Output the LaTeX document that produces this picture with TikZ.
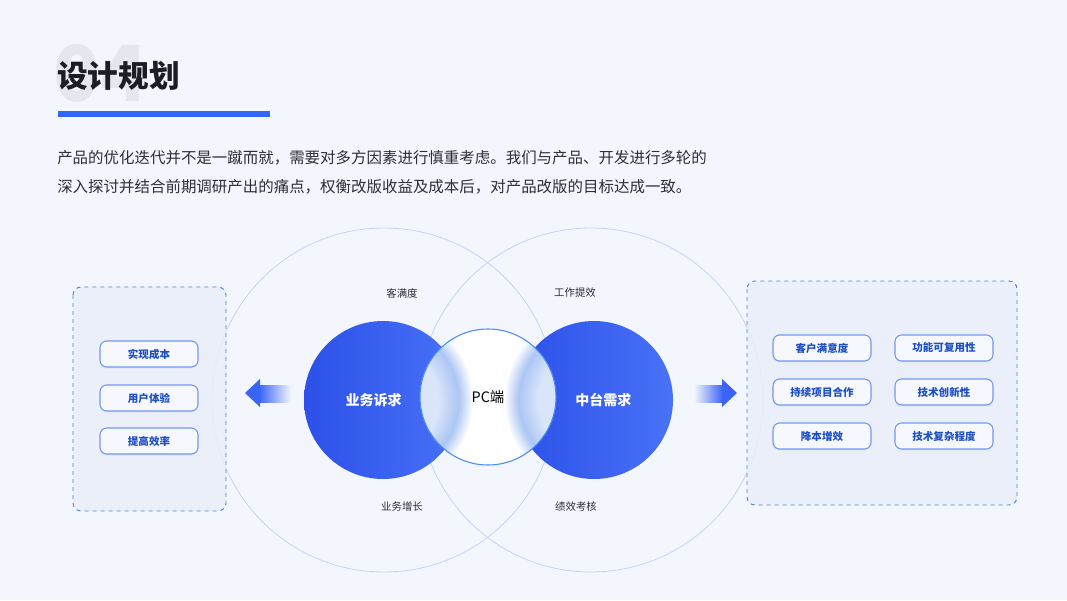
\documentclass[tikz,border=0pt]{standalone}
\usepackage{fontspec}
\setmainfont{Noto Sans CJK SC}
\usetikzlibrary{positioning,shadows}

\definecolor{bgcol}{RGB}{243,246,253}
\definecolor{numgray}{RGB}{228,231,238}
\definecolor{titleink}{RGB}{28,30,36}
\definecolor{bodyink}{RGB}{45,47,54}
\definecolor{barblue}{RGB}{52,102,250}
\definecolor{ringline}{RGB}{196,212,245}
\definecolor{bizdark}{RGB}{44,80,232}
\definecolor{bizlight}{RGB}{72,114,248}
\definecolor{pcline}{RGB}{74,140,245}
\definecolor{glowpale}{RGB}{218,229,250}
\definecolor{glowdeep}{RGB}{172,198,244}
\definecolor{boxline}{RGB}{78,128,212}
\definecolor{boxfill}{RGB}{233,238,250}
\definecolor{pillfill}{RGB}{246,248,254}
\definecolor{pillline}{RGB}{112,152,240}
\definecolor{pilltext}{RGB}{30,78,196}
\definecolor{arrowblue}{RGB}{58,100,246}

\pgfdeclareradialshading{glowshade}{\pgfpoint{0bp}{0bp}}{color(0bp)=(glowpale); color(15bp)=(glowpale); color(20.5bp)=(glowdeep); color(24.5bp)=(white); color(50bp)=(white)}

\begin{document}
\begin{tikzpicture}[x=0.75pt,y=-0.75pt,
    pill/.style={draw=pillline, line width=0.8pt, fill=pillfill, rounded corners=5pt,
      minimum width=73.5pt, minimum height=19.5pt, inner sep=0pt,
      font=\fontsize{7.9}{9}\selectfont\bfseries, text=pilltext,
      drop shadow={shadow xshift=0pt, shadow yshift=-1.2pt, opacity=0.07}},
    dashbox/.style={draw=boxline, dashed, line width=0.7pt, fill=boxfill, fill opacity=0.85, rounded corners=6pt},
    bizcirc/.style={circle, minimum size=118.5pt, inner sep=0pt, text=white,
      font=\fontsize{10.5}{12}\selectfont\bfseries},
    tag/.style={inner sep=0pt, text=bodyink, font=\fontsize{7.8}{9}\selectfont}]

  % background
  \fill[bgcol] (0,0) rectangle (1067,600);

  % heading
  \node[anchor=west, inner sep=0pt, text=numgray, font=\fontsize{58}{58}\selectfont\bfseries] (num) at (53,73) {04};
  \node[anchor=west, inner sep=0pt, text=titleink, font=\fontsize{23}{23}\selectfont\bfseries] (title) at (57,76) {设计规划};
  \fill[barblue] (58,111) rectangle (270,117);

  % intro text
  \node[anchor=west, inner sep=0pt, text=bodyink, font=\fontsize{11.6}{14}\selectfont] (line1) at (57,158) {产品的优化迭代并不是一蹴而就，需要对多方因素进行慎重考虑。我们与产品、开发进行多轮的};
  \node[anchor=west, inner sep=0pt, text=bodyink, font=\fontsize{11.6}{14}\selectfont] (line2) at (57,187) {深入探讨并结合前期调研产出的痛点，权衡改版收益及成本后，对产品改版的目标达成一致。};

  % large rings
  \draw[ringline, line width=0.6pt] (384,400) circle (172);
  \draw[ringline, line width=0.6pt] (591,400) circle (172);

  % side boxes
  \draw[dashbox] (73,287) rectangle (226,511);
  \draw[dashbox] (747,281) rectangle (1017,505);

  % left items
  \node[pill] (cost) at (149,354) {实现成本};
  \node[pill] (ux) at (149,398) {用户体验};
  \node[pill] (eff) at (149,441) {提高效率};

  % right items
  \node[pill] (sat) at (822,348) {客户满意度};
  \node[pill] (reuse) at (944,348) {功能可复用性};
  \node[pill] (coop) at (822,392) {持续项目合作};
  \node[pill] (innov) at (944,392) {技术创新性};
  \node[pill] (save) at (822,436) {降本增效};
  \node[pill] (cplx) at (944,436) {技术复杂程度};

  % core circles
  \node[bizcirc, shade, left color=bizdark, right color=bizlight] (biz) at (383,400) {\hspace*{-14pt}业务诉求};
  \node[bizcirc, shade, left color=bizdark, right color=bizlight] (mid) at (594,400) {\hspace*{14pt}中台需求};
  \node[circle, minimum size=102pt, inner sep=0pt, fill=white] (pc) at (488,397) {};
  \begin{scope}
    \clip (pc.center) circle (68);
    \shade[shading=glowshade] (biz.center) circle (92);
    \shade[shading=glowshade] (mid.center) circle (92);
  \end{scope}
  \draw[pcline, line width=0.8pt] (pc.center) circle (68);
  \node[inner sep=0pt, text=black, font=\fontsize{10.8}{12}\selectfont] at (pc.center) {PC端};

  % tags
  \node[tag] (t1) at (402,293) {客满度};
  \node[tag] (t2) at (575,293) {工作提效};
  \node[tag] (t3) at (402,507) {业务增长};
  \node[tag] (t4) at (576,507) {绩效考核};

  % arrows
  \coordinate (ltip) at (245,393);
  \coordinate (rtip) at (737,393);
  \shade[left color=arrowblue, right color=bgcol] (259,385) rectangle (291,402);
  \fill[arrowblue] (ltip) -- (260,379) -- (260,407) -- cycle;
  \shade[left color=bgcol, right color=arrowblue] (694,385) rectangle (723,402);
  \fill[arrowblue] (rtip) -- (722,379) -- (722,407) -- cycle;
\end{tikzpicture}
\end{document}
